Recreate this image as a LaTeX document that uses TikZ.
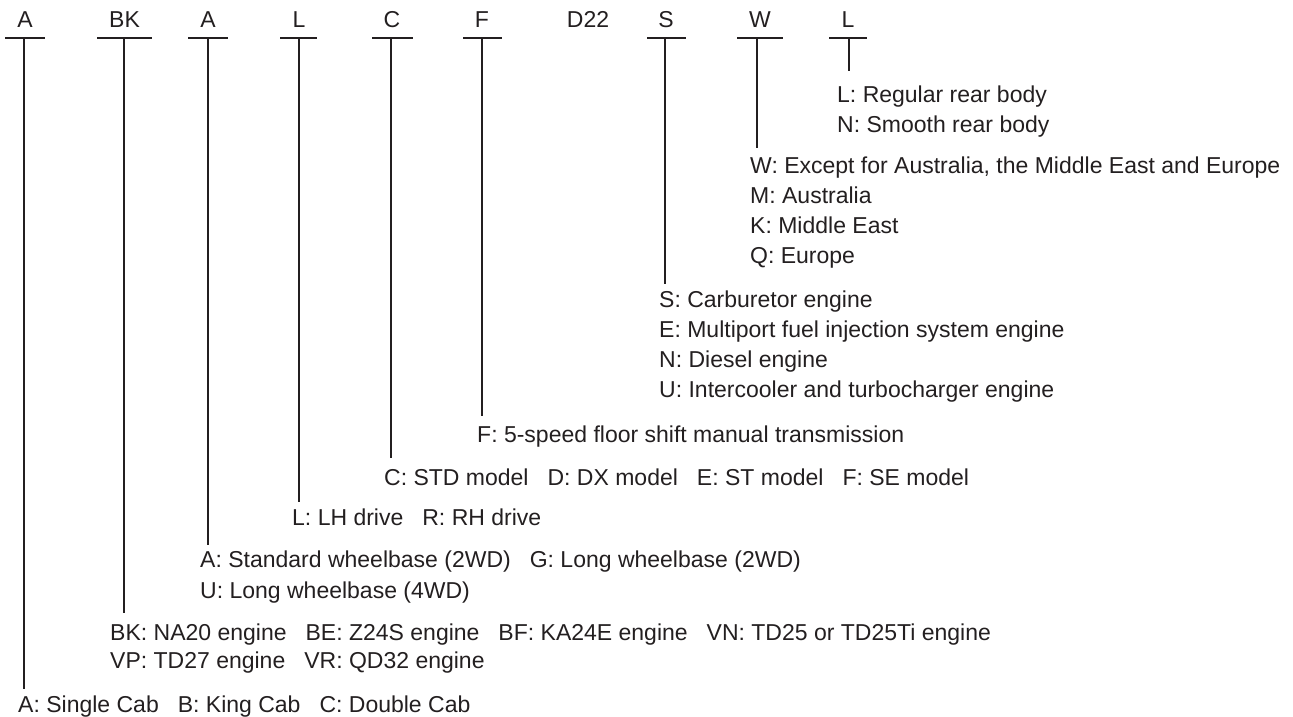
\documentclass[tikz,border=0pt]{standalone}
\usepackage{fontspec}
\setmainfont{Liberation Sans}
\newcommand{\gapsep}{\hspace{19pt}}
\begin{document}
\begin{tikzpicture}[x=1pt,y=-1pt,
  hdr/.style={anchor=base,inner sep=0pt,font=\fontsize{23}{29}\selectfont,text=ink},
  txt/.style={anchor=base west,inner sep=0pt,font=\fontsize{23}{29}\selectfont,text=ink},
  bar/.style={draw=ink,line width=2pt},
  stem/.style={draw=ink,line width=1.3pt}]
\definecolor{ink}{HTML}{231F20}
\useasboundingbox (0,0) rectangle (1293,717);
% header letters
\node[hdr] (h1) at (25,28) {A};
\node[hdr] (h2) at (124.5,28) {BK};
\node[hdr] (h3) at (208,28) {A};
\node[hdr] (h4) at (299,28) {L};
\node[hdr] (h5) at (392,28) {C};
\node[hdr] (h6) at (482,28) {F};
\node[hdr] (h7) at (588,28) {D22};
\node[hdr] (h8) at (666,28) {S};
\node[hdr] (h9) at (760,28) {W};
\node[hdr] (h10) at (848,28) {L};
% bars
\draw[bar] (5,38) -- (45,38);
\draw[bar] (97,38) -- (152,38);
\draw[bar] (188,38) -- (228,38);
\draw[bar] (280,38) -- (317,38);
\draw[bar] (372,38) -- (413,38);
\draw[bar] (463,38) -- (502,38);
\draw[bar] (647,38) -- (686,38);
\draw[bar] (737,38) -- (783,38);
\draw[bar] (829,38) -- (867,38);
% bar centres
\coordinate (b1) at (24,38);
\coordinate (b2) at (124,38);
\coordinate (b3) at (208,38);
\coordinate (b4) at (299,38);
\coordinate (b5) at (391,38);
\coordinate (b6) at (482,38);
\coordinate (b8) at (665,38);
\coordinate (b9) at (757,38);
\coordinate (b10) at (849,38);
% line ends
\coordinate (e1) at (24,689);
\coordinate (e2) at (124,613);
\coordinate (e3) at (208,545);
\coordinate (e4) at (299,502);
\coordinate (e5) at (391,458);
\coordinate (e6) at (482,416);
\coordinate (e8) at (665,284);
\coordinate (e9) at (757,148);
\coordinate (e10) at (849,71);
\foreach \i in {1,2,3,4,5,6,8,9,10} {\draw[stem] (b\i) -- (e\i);}
% texts
\node[txt] (t10a) at (837,102) {L: Regular rear body};
\node[txt] (t10b) at (837,132) {N: Smooth rear body};
\node[txt] (t9a) at (750,173) {W: Except for Australia, the Middle East and Europe};
\node[txt] (t9b) at (750,203) {M: Australia};
\node[txt] (t9c) at (750,233) {K: Middle East};
\node[txt] (t9d) at (750,263) {Q: Europe};
\node[txt] (t8a) at (659,307) {S: Carburetor engine};
\node[txt] (t8b) at (659,337) {E: Multiport fuel injection system engine};
\node[txt] (t8c) at (659,367) {N: Diesel engine};
\node[txt] (t8d) at (659,397) {U: Intercooler and turbocharger engine};
\node[txt] (t6) at (477,442) {F: 5-speed floor shift manual transmission};
\node[txt] (t5) at (384,485) {C: STD model\gapsep D: DX model\gapsep E: ST model\gapsep F: SE model};
\node[txt] (t4) at (292,525) {L: LH drive\gapsep R: RH drive};
\node[txt] (t3a) at (200,567) {A: Standard wheelbase (2WD)\gapsep G: Long wheelbase (2WD)};
\node[txt] (t3b) at (200,598) {U: Long wheelbase (4WD)};
\node[txt] (t2a) at (110,640) {BK: NA20 engine\gapsep BE: Z24S engine\gapsep BF: KA24E engine\gapsep VN: TD25 or TD25Ti engine};
\node[txt] (t2b) at (110,668) {VP: TD27 engine\gapsep VR: QD32 engine};
\node[txt] (t1) at (18,712) {A: Single Cab\gapsep B: King Cab\gapsep C: Double Cab};
\end{tikzpicture}
\end{document}
